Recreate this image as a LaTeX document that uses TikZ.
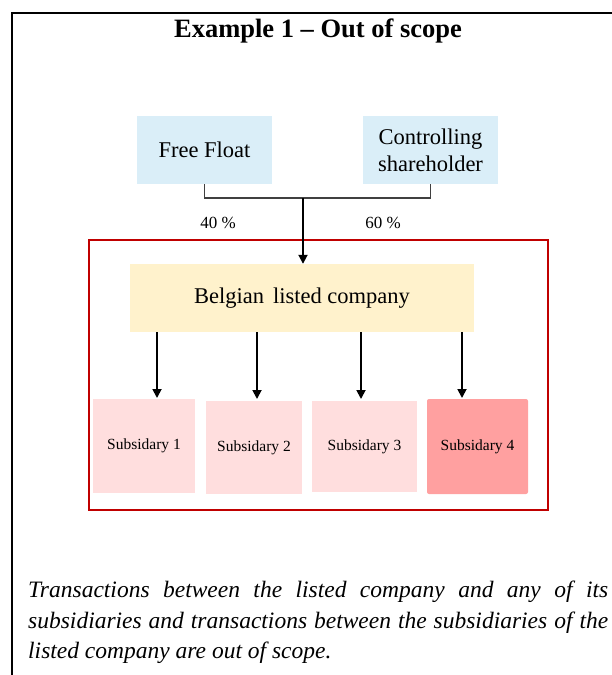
\documentclass[tikz,border=0pt]{standalone}
\usepackage{fontspec}
\setmainfont{Liberation Serif}
\usetikzlibrary{arrows.meta}
\definecolor{boxblue}{HTML}{DAEEF8}
\definecolor{boxyellow}{HTML}{FFF2CC}
\definecolor{subpink}{HTML}{FFDEDE}
\definecolor{subred}{HTML}{FFA0A0}
\definecolor{frame}{HTML}{C00000}
\definecolor{linegray}{HTML}{404040}
\begin{document}
\begin{tikzpicture}[x=1pt,y=-1pt,
  shbox/.style={fill=boxblue,draw=none,inner sep=0pt,align=center,font=\fontsize{22.5}{27}\selectfont},
  subbox/.style={fill=subpink,draw=none,inner sep=0pt,font=\fontsize{15.5}{18}\selectfont},
  arr/.style={line width=1.8pt,-{Triangle[length=9pt,width=9pt]}},
  pct/.style={font=\fontsize{17}{19}\selectfont}]
\useasboundingbox (0,0) rectangle (612,675);
% outer frame
\draw[line width=2.2pt] (612,13) -- (12,13) -- (12,675);
\node[font=\fontsize{26.5}{30}\bfseries] (title) at (318,31) {Example 1 -- Out of scope};
% shareholders
\node[shbox,minimum width=135pt,minimum height=68pt] (ff) at (204.5,150) {Free Float};
\node[shbox,minimum width=135pt,minimum height=68pt] (cs) at (430.5,150) {Controlling\\shareholder};
% red scope box
\draw[frame,line width=1.3pt] (89,240) rectangle (548,510);
\node[fill=boxyellow,inner sep=0pt,minimum width=344pt,minimum height=68pt,font=\fontsize{22.5}{26}\selectfont] (bl) at (302,298) {Belgian\hspace{0.4em}listed company};
% bracket
\coordinate (j) at (303,198);
\draw[linegray,line width=1.5pt] (ff.south) |- (j) -| (cs.south);
\draw[arr] (j) -- (j |- bl.north);
\node[pct] (p40) at (218,223) {40 \%};
\node[pct] (p60) at (383,223) {60 \%};
% subsidiaries
\node[subbox,minimum width=102pt,minimum height=94pt] (s1) at (144,446) {Subsidary 1};
\node[subbox,minimum width=96pt,minimum height=93pt] (s2) at (254,447.5) {Subsidary 2};
\node[subbox,minimum width=105pt,minimum height=91pt] (s3) at (364.5,446.5) {Subsidary 3};
\node[subbox,fill=subred,rounded corners=2pt,minimum width=101pt,minimum height=95pt] (s4) at (477.5,446.5) {Subsidary 4};
\coordinate (t1) at (157,398);
\coordinate (t2) at (257,399);
\coordinate (t3) at (361,399);
\coordinate (t4) at (462,398);
\draw[arr] (t1 |- bl.south) -- (t1);
\draw[arr] (t2 |- bl.south) -- (t2);
\draw[arr] (t3 |- bl.south) -- (t3);
\draw[arr] (t4 |- bl.south) -- (t4);
% bottom text
\node[anchor=north west,inner sep=0pt,text width=580pt,align=justify,font=\fontsize{23.5}{30.5}\itshape] (note) at (28,581)
{Transactions between the listed company and any of its\linebreak subsidiaries and transactions between the subsidiaries of the\linebreak listed company are out of scope.};
\end{tikzpicture}
\end{document}
